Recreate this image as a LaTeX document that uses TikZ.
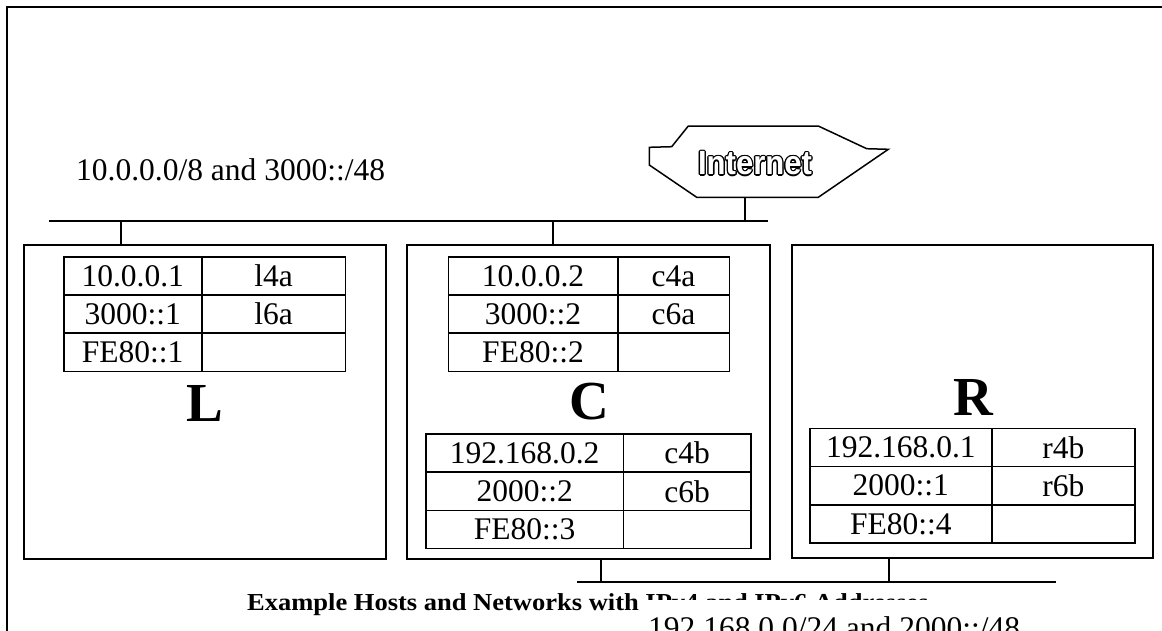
\documentclass[tikz,border=0pt]{standalone}
\usepackage{fontspec}
\setmainfont{Liberation Serif}
\newfontfamily\inetfont{Liberation Sans}
\newcommand\addrtab[9]{%
  \node[cell, minimum width=#3, anchor=north west] (#1a1) at #2 {#5};
  \node[cell, minimum width=#4, anchor=north west] (#1b1) at (#1a1.north east) {#6};
  \node[cell, minimum width=#3, anchor=north west] (#1a2) at (#1a1.south west) {#7};
  \node[cell, minimum width=#4, anchor=north west] (#1b2) at (#1a2.north east) {#8};
  \node[cell, minimum width=#3, anchor=north west] (#1a3) at (#1a2.south west) {#9};
  \node[cell, minimum width=#4, anchor=north west] (#1b3) at (#1a3.north east) {};
}
\begin{document}
\begin{tikzpicture}[x=1pt,y=-1pt,
  cell/.style={draw, line width=1.6pt, rectangle, inner sep=0pt, outer sep=0pt,
    minimum height=38.2pt, font=\fontsize{31.5}{36}\selectfont},
  hostbox/.style={draw, line width=2pt, rectangle, inner sep=0pt, outer sep=0pt},
  wire/.style={line width=1.6pt},
  hostname/.style={font=\fontsize{55}{60}\selectfont\bfseries, inner sep=0pt},
  plaintext/.style={inner sep=0pt, font=\fontsize{31.5}{36}\selectfont},
  inettext/.style={inner sep=0pt, font=\inetfont\bfseries\fontsize{32}{36}\selectfont},
]
\useasboundingbox (0,0) rectangle (1162,630);
\clip (0,0) rectangle (1162,630);
\fill[white] (0,0) rectangle (1162,630);

% outer frame
\coordinate (fbl) at (7,645);
\coordinate (ftl) at (7,7);
\coordinate (ftr) at (1175,7);
\draw[line width=2.2pt] (fbl) -- (ftl) -- (ftr);

% network label
\node[plaintext, anchor=base west] (net1) at (76,180) {10.0.0.0/8 and 3000::/48};

% internet cloud
\draw[line width=1.5pt, line join=miter] (688.3,126) -- (818.3,126) -- (866.7,148.7) -- (888.3,149.3)
  -- (818.3,197.3) -- (696.7,197.3) -- (649.3,165) -- (649.3,147.3) -- (671.7,146.7) -- cycle;
\foreach \i in {0,...,11}{
  \node[inettext, text=black] (inetc\i) at ({755+1.3*cos(\i*30)},{163.3+1.3*sin(\i*30)})
    {\scalebox{0.97}[1.05]{Internet}};
}
\node[inettext, text=white] (inet) at (755,163.3) {\scalebox{0.97}[1.05]{Internet}};

% hosts
\node[hostbox, anchor=north west, minimum width=362pt, minimum height=314pt] (hostL) at (24,245) {};
\node[hostbox, anchor=north west, minimum width=363pt, minimum height=314pt] (hostC) at (407,245) {};
\node[hostbox, anchor=north west, minimum width=361pt, minimum height=313pt] (hostR) at (792,245) {};

% top bus
\coordinate (busAw) at (49,221);
\coordinate (busAe) at (768,221);
\draw[wire] (busAw) -- (busAe);
\coordinate (tapL) at (121,221);
\coordinate (tapC) at (553,221);
\coordinate (tapI) at (745,221);
\coordinate (inetb) at (745,197.3);
\draw[wire] (tapL) -- (tapL |- hostL.north);
\draw[wire] (tapC) -- (tapC |- hostC.north);
\draw[wire] (tapI) -- (inetb);

% bottom bus
\coordinate (busBw) at (577,582);
\coordinate (busBe) at (1056,582);
\draw[wire] (busBw) -- (busBe);
\coordinate (tapC2) at (601,582);
\coordinate (tapR) at (889,582);
\draw[wire] (tapC2) -- (tapC2 |- hostC.south);
\draw[wire] (tapR) -- (tapR |- hostR.south);

% tables
\addrtab{tL}{(63.7,256.7)}{138pt}{143.6pt}{10.0.0.1}{l4a}{3000::1}{l6a}{FE80::1}
\addrtab{tCa}{(448.3,256.7)}{169.4pt}{111.6pt}{10.0.0.2}{c4a}{3000::2}{c6a}{FE80::2}
\addrtab{tCb}{(426,434)}{197.3pt}{127.7pt}{192.168.0.2}{c4b}{2000::2}{c6b}{FE80::3}
\addrtab{tR}{(810,428.3)}{181.7pt}{143.3pt}{192.168.0.1}{r4b}{2000::1}{r6b}{FE80::4}

% host names
\node[hostname, anchor=base] (labL) at (205,421.7) {L};
\node[hostname, anchor=base] (labC) at (589,419) {C};
\node[hostname, anchor=base] (labR) at (973,415) {R};

% caption and overlapping network label
\node[anchor=base west, inner sep=0pt, font=\fontsize{26.5}{30}\selectfont\bfseries] (caption) at (247,610)
  {\scalebox{1}[0.92]{Example Hosts and Networks with IPv4 and IPv6 Addresses}};
\node[plaintext, anchor=base west, fill=white, inner xsep=7pt, inner ysep=0pt, text height=38pt] (net2)
  at (641,638) {192.168.0.0/24 and 2000::/48};
\end{tikzpicture}
\end{document}
